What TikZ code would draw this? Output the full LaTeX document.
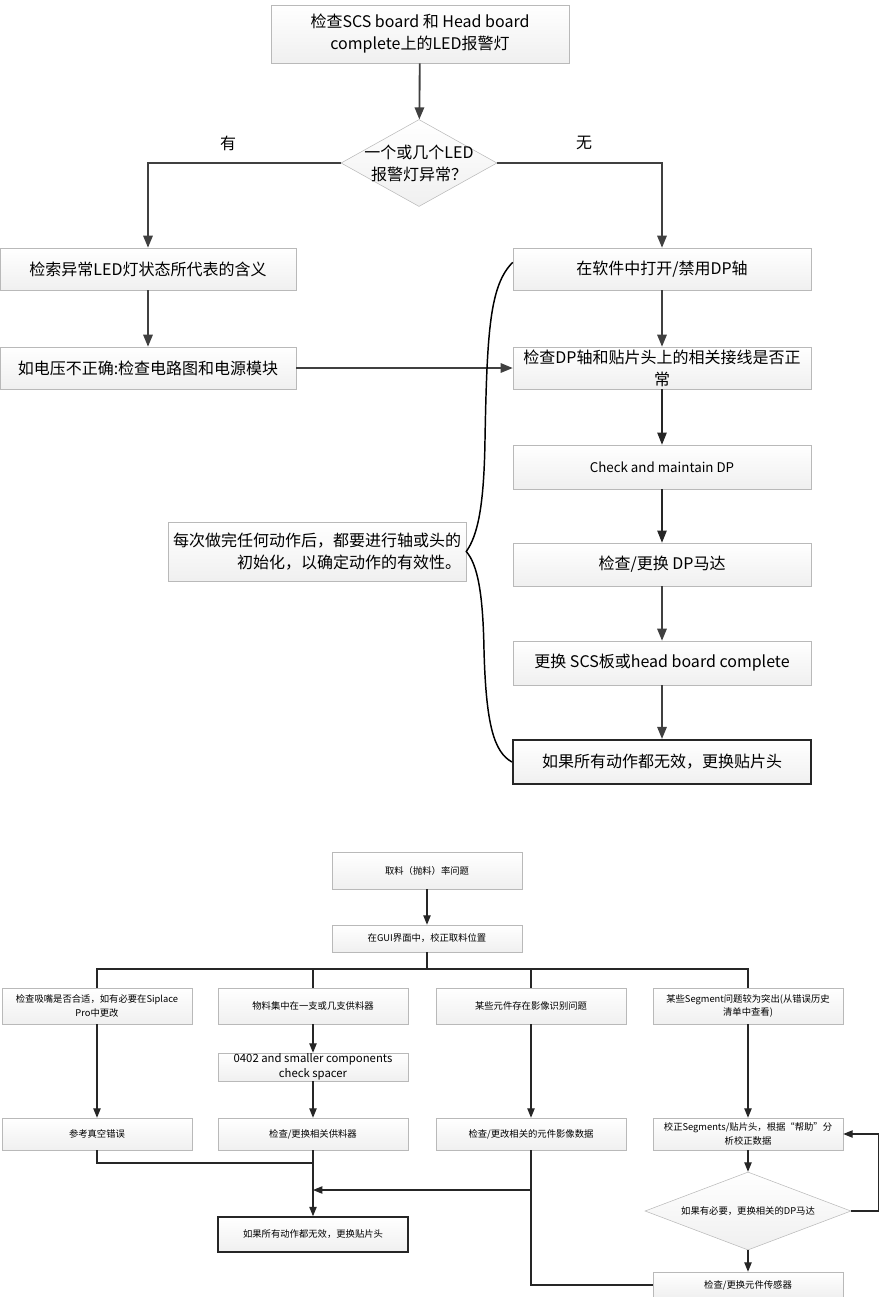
\documentclass[tikz,border=0pt]{standalone}
\usepackage{fontspec}
\setmainfont{Noto Sans CJK SC}
\usetikzlibrary{shapes.geometric, arrows.meta}

\begin{document}
\begin{tikzpicture}[x=0.75pt, y=-0.75pt,
    box/.style={draw=gray!55, top color=white, bottom color=gray!12, inner sep=0pt, align=center},
    bigbox/.style={box, minimum width=223.5pt, font=\fontsize{12}{16.5}\selectfont},
    smallbox/.style={box, minimum width=142.5pt, font=\fontsize{7}{10}\selectfont},
    endbox/.style={draw=black!85, line width=1.6pt},
    conn/.style={draw=black!75, line width=1.4pt},
    sconn/.style={draw=black!85, line width=0.8pt},
    arr/.style={-{Triangle[length=9pt, width=7pt]}},
    sarr/.style={-{Triangle[length=7pt, width=5.5pt]}}]
  \useasboundingbox (0,0) rectangle (880,1297);

  % LED check
  \node (A) [bigbox, minimum height=43.5pt] at (420,34) {检查SCS board 和 Head board\\complete上的LED报警灯};
  \node (dq) [box, diamond, minimum width=117pt, minimum height=65.25pt] at (419,163) {};
  \node (dqt) [font=\fontsize{12}{16.5}\selectfont, align=center] at (dq) {一个或几个LED\\报警灯异常？};
  \node (yes) [font=\fontsize{12}{16.5}\selectfont] at (228,143) {有};
  \node (no) [font=\fontsize{12}{16.5}\selectfont] at (584,143) {无};
  \node (B) [bigbox, minimum width=222pt, minimum height=31.5pt] at (148,269) {检索异常LED灯状态所代表的含义};
  \node (D) [bigbox, minimum width=222pt, minimum height=31.5pt] at (148,368) {如电压不正确:检查电路图和电源模块};
  \node (C) [bigbox, minimum height=31.5pt] at (662,269) {在软件中打开/禁用DP轴};
  \node (E) [bigbox, minimum height=31.5pt] at (662,368) {检查DP轴和贴片头上的相关接线是否正\\常};
  \node (F) [bigbox, minimum height=33pt, font=\fontsize{10}{12}\selectfont] at (662,467) {Check and maintain DP};
  \node (G) [bigbox, minimum height=32.25pt] at (662,564.5) {检查/更换 DP马达};
  \node (H) [bigbox, minimum height=33pt] at (662,663) {更换 SCS板或head board complete};
  \node (I) [bigbox, endbox, minimum height=33pt] at (662,762) {如果所有动作都无效，更换贴片头};
  \node (J) [bigbox, minimum height=44.25pt, align=right] at (317,551.5) {每次做完任何动作后，都要进行轴或头的\\初始化，以确定动作的有效性。};

  \draw [conn, arr] (A) -- (dq);
  \draw [conn, arr] (dq) -| (B);
  \draw [conn, arr] (dq) -| (C);
  \draw [conn, arr] (B) -- (D);
  \draw [conn, arr] (D) -- (E);
  \foreach \a/\b in {C/E, G/H, H/I} \draw [conn, arr] (\a) -- (\b);
  \foreach \a/\b in {E/F, F/G} \draw [sconn, arr] (\a) -- (\b);
  \draw [line width=1.1pt] ([yshift=5pt]C.west) .. controls (490,285) and (487,330) .. (485,440) .. controls (484,505) and (478,535) .. (J.east) .. controls (478,565) and (483,595) .. (484,650) .. controls (486,725) and (494,752) .. (I.west);

  % pick-up rate
  \node (K) [smallbox, minimum height=27.75pt] at (427,870.5) {取料（抛料）率问题};
  \node (L) [smallbox, minimum height=20.25pt] at (427,938.5) {在GUI界面中，校正取料位置};
  \coordinate (bus) at (427,969);
  \node (M1) [smallbox, minimum height=27pt] at (97,1006) {检查吸嘴是否合适，如有必要在Siplace\\Pro中更改};
  \node (M2) [smallbox, minimum height=27pt] at (313,1006) {物料集中在一支或几支供料器};
  \node (M3) [smallbox, minimum height=27pt] at (531,1006) {某些元件存在影像识别问题};
  \node (M4) [smallbox, minimum height=27pt] at (748,1006) {某些Segment问题较为突出(从错误历史\\清单中查看)};
  \node (N) [smallbox, minimum height=21pt, font=\fontsize{8.5}{11}\selectfont] at (313,1067) {0402 and smaller components\\check spacer};
  \node (O1) [smallbox, minimum height=24pt] at (97,1134) {参考真空错误};
  \node (O2) [smallbox, minimum height=24pt] at (313,1134) {检查/更换相关供料器};
  \node (O3) [smallbox, minimum height=24pt] at (531,1134) {检查/更改相关的元件影像数据};
  \node (O4) [smallbox, minimum height=24pt] at (748,1134) {校正Segments/贴片头，根据“帮助”分\\析校正数据};
  \node (P) [smallbox, endbox, line width=1.2pt, minimum height=26.25pt] at (313,1234.5) {如果所有动作都无效，更换贴片头};
  \node (R) [box, diamond, minimum width=154.5pt, minimum height=58.5pt] at (748,1211) {};
  \node (Rt) [font=\fontsize{7}{10}\selectfont] at (R) {如果有必要，更换相关的DP马达};
  \node (Q) [smallbox, minimum height=19.5pt] at (748,1285) {检查/更换元件传感器};
  \coordinate (j1) at (313,1163);
  \coordinate (j2) at (531,1190);
  \coordinate (j3) at (313,1190);

  \draw [sconn, sarr] (K) -- (L);
  \draw [sconn] (L) -- (bus);
  \draw [sconn] (M1.north) |- (bus) -| (M4.north);
  \foreach \m in {M2, M3} \draw [sconn] (\m.north) -- (\m.north |- bus);
  \foreach \a/\b in {M1/O1, M2/N, N/O2, M3/O3, M4/O4, O2/P, O4/R, R/Q} \draw [sconn, sarr] (\a) -- (\b);
  \draw [sconn] (O1) |- (j1);
  \draw [sconn] (O3) -- (j2);
  \draw [sconn, sarr] (Q) -| (j2) -- (j3);
  \draw [sconn, sarr] (R.east) -- ++(27,0) |- (O4);
\end{tikzpicture}
\end{document}
